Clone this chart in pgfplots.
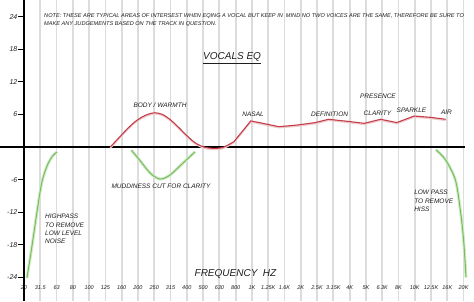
\documentclass[border=0pt]{standalone}
\usepackage{fontspec}
\setmainfont{Liberation Sans}
\usepackage{pgfplots}
\pgfplotsset{compat=1.18}
\definecolor{gridc}{RGB}{220,220,220}
\definecolor{redc}{RGB}{196,62,74}
\definecolor{redsh}{RGB}{238,200,202}
\definecolor{greenc}{RGB}{120,190,95}
\definecolor{greensh}{RGB}{210,234,200}
\definecolor{txt}{RGB}{30,30,30}
\begin{document}
\begin{tikzpicture}
\begin{axis}[
  scale only axis, width=474pt, height=301pt,
  xmin=-1.474, xmax=27.64, ymin=-28.35, ymax=27.06,
  axis line style={draw=none},
  xtick={0,...,27},
  xticklabels={20,31.5,63,80,100,125,160,200,250,315,400,500,630,800,1K,1.25K,1.6K,2K,2.5K,3.15K,4K,5K,6.3K,8K,10K,12.5K,16K,20K},
  xticklabel style={font=\fontsize{5.5}{6}\selectfont\itshape, text=txt, anchor=center, yshift=13pt},
  xmajorgrids, grid style={gridc, line width=1.8pt},
  major x tick style={draw=none},
  ytick=\empty,
  clip=false,
]
% axes
\draw[line width=1.5pt] (axis cs:0,-28.35) -- (axis cs:0,27.06);
\draw[line width=1.5pt] (axis cs:-1.474,0) -- (axis cs:27.07,0);
\pgfplotsinvokeforeach{-24,-18,-12,-6,6,12,18,24}{
  \draw[line width=1pt] (axis cs:0,#1) -- ([xshift=-6pt]axis cs:0,#1);
  \node[anchor=east, inner sep=0.5pt, font=\fontsize{7}{8}\selectfont\itshape, text=txt] at ([xshift=-6pt]axis cs:0,#1) {#1};
}
% green cuts
\addplot[greensh, line width=3pt, smooth, no markers] coordinates {(0.18,-24.1)(0.4,-20)(0.6,-16)(0.82,-11.5)(1.09,-6.6)(1.4,-3.6)(1.72,-1.8)(2.03,-0.9)};
\addplot[greenc, line width=1pt, smooth, no markers] coordinates {(0.18,-24.1)(0.4,-20)(0.6,-16)(0.82,-11.5)(1.09,-6.6)(1.4,-3.6)(1.72,-1.8)(2.03,-0.9)};
\addplot[greensh, line width=3pt, smooth, no markers] coordinates {(6.6,-0.6)(7.1,-2.4)(7.75,-4.8)(8.35,-5.9)(8.95,-5.2)(9.75,-3.0)(10.5,-0.9)};
\addplot[greenc, line width=1pt, smooth, no markers] coordinates {(6.6,-0.6)(7.1,-2.4)(7.75,-4.8)(8.35,-5.9)(8.95,-5.2)(9.75,-3.0)(10.5,-0.9)};
\addplot[greensh, line width=3pt, smooth, no markers] coordinates {(25.3,-0.5)(25.9,-2.4)(26.5,-6.1)(26.8,-11.6)(27.0,-17.1)(27.15,-24)};
\addplot[greenc, line width=1pt, smooth, no markers] coordinates {(25.3,-0.5)(25.9,-2.4)(26.5,-6.1)(26.8,-11.6)(27.0,-17.1)(27.15,-24)};
% red boost
\addplot[redsh, line width=1.6pt, smooth, no markers, yshift=-1pt] coordinates {(5.3,0)(5.8,1.6)(6.3,3.2)(6.8,4.6)(7.3,5.6)(7.7,6.1)(8.05,6.3)(8.5,6.0)(9.0,5.0)(9.5,3.6)(10.0,2.1)(10.5,0.8)(11.0,0.05)(11.4,-0.2)(11.8,-0.25)(12.2,-0.1)(12.55,0.4)(12.9,1.0)};
\addplot[redc, line width=1.1pt, smooth, no markers] coordinates {(5.3,0)(5.8,1.6)(6.3,3.2)(6.8,4.6)(7.3,5.6)(7.7,6.1)(8.05,6.3)(8.5,6.0)(9.0,5.0)(9.5,3.6)(10.0,2.1)(10.5,0.8)(11.0,0.05)(11.4,-0.2)(11.8,-0.25)(12.2,-0.1)(12.55,0.4)(12.9,1.0)};
\addplot[redsh, line width=1.6pt, no markers, yshift=-1pt] coordinates {(12.9,1.0)(13.93,4.8)(14.6,4.4)(15.66,3.74)(16.8,4.05)(17.9,4.5)(18.7,5.1)(19.8,4.75)(20.9,4.36)(21.9,5.1)(22.9,4.5)(23.96,5.7)(24.98,5.46)(25.9,5.1)};
\addplot[redc, line width=1.1pt, no markers] coordinates {(12.9,1.0)(13.93,4.8)(14.6,4.4)(15.66,3.74)(16.8,4.05)(17.9,4.5)(18.7,5.1)(19.8,4.75)(20.9,4.36)(21.9,5.1)(22.9,4.5)(23.96,5.7)(24.98,5.46)(25.9,5.1)};
% texts
\begin{scope}[every node/.style={text=txt, inner sep=0pt, font=\fontsize{6.5}{8.4}\selectfont\itshape}]
\node[anchor=west, align=left, font=\fontsize{5.6}{8}\selectfont\itshape] at (axis cs:1.229,23.38) {NOTE: THESE ARE TYPICAL AREAS OF INTERSEST WHEN EQING A VOCAL BUT KEEP IN\ \ MIND NO TWO VOICES ARE THE SAME, THEREFORE BE SURE TO\\MAKE ANY JUDGEMENTS BASED ON THE TRACK IN QUESTION.};
\node[font=\fontsize{10}{12}\selectfont\itshape] at (axis cs:12.78,16.38) {\underline{VOCALS EQ}};
\node at (axis cs:8.354,7.73) {BODY / WARMTH};
\node at (axis cs:8.415,-7.18) {MUDDINESS CUT FOR CLARITY};
\node at (axis cs:14.07,6.07) {NASAL};
\node at (axis cs:18.77,6.07) {DEFINITION};
\node at (axis cs:21.74,9.39) {PRESENCE};
\node at (axis cs:21.71,6.26) {CLARITY};
\node at (axis cs:23.80,6.81) {SPARKLE};
\node at (axis cs:25.95,6.44) {AIR};
\node[anchor=north west, align=left] at (axis cs:1.29,-12.33) {HIGHPASS\\TO REMOVE\\LOW LEVEL\\NOISE};
\node[anchor=north west, align=left] at (axis cs:23.96,-7.91) {LOW PASS\\TO REMOVE\\HISS};
\node[font=\fontsize{10}{12}\selectfont\itshape] at (axis cs:12.99,-23.38) {FREQUENCY\ \ HZ};
\end{scope}
\end{axis}
\pgfresetboundingbox
\useasboundingbox (current axis.south west) rectangle (current axis.north east);
\end{tikzpicture}
\end{document}
